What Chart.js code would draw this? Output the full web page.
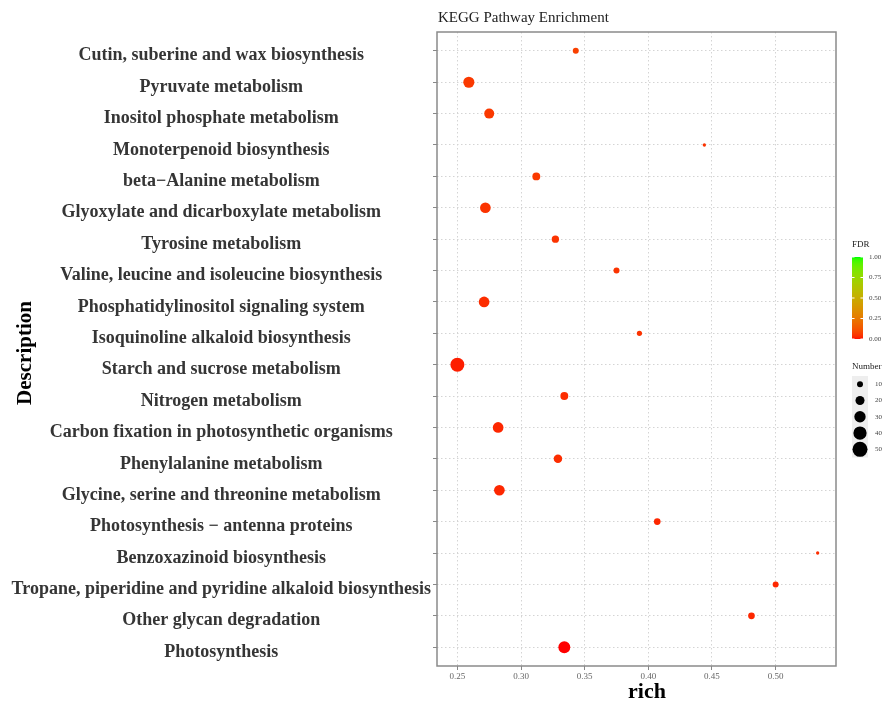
<!DOCTYPE html>
<html><head><meta charset="utf-8">
<script src="https://cdn.jsdelivr.net/npm/chart.js@4"></script>
<style>html,body{margin:0;padding:0;background:#fff;}</style>
</head><body>
<canvas id="c" width="890" height="702"></canvas>
<script>
const categories = [
  "Cutin, suberine and wax biosynthesis",
  "Pyruvate metabolism",
  "Inositol phosphate metabolism",
  "Monoterpenoid biosynthesis",
  "beta\u2212Alanine metabolism",
  "Glyoxylate and dicarboxylate metabolism",
  "Tyrosine metabolism",
  "Valine, leucine and isoleucine biosynthesis",
  "Phosphatidylinositol signaling system",
  "Isoquinoline alkaloid biosynthesis",
  "Starch and sucrose metabolism",
  "Nitrogen metabolism",
  "Carbon fixation in photosynthetic organisms",
  "Phenylalanine metabolism",
  "Glycine, serine and threonine metabolism",
  "Photosynthesis \u2212 antenna proteins",
  "Benzoxazinoid biosynthesis",
  "Tropane, piperidine and pyridine alkaloid biosynthesis",
  "Other glycan degradation",
  "Photosynthesis"
];
const richValues = [0.343, 0.259, 0.275, 0.444, 0.312, 0.272, 0.327, 0.375, 0.271, 0.393,
                    0.250, 0.334, 0.282, 0.329, 0.283, 0.407, 0.533, 0.500, 0.481, 0.334];
const geneNumbers = [10, 29, 24, 4, 16, 27, 14, 10, 27, 8,
                     44, 16, 27, 18, 27, 12, 4, 10, 12, 33];
const fdrValues = [0.075, 0.06, 0.06, 0.05, 0.06, 0.05, 0.05, 0.05, 0.04, 0.05,
                   0.02, 0.04, 0.03, 0.04, 0.03, 0.03, 0.04, 0.03, 0.03, 0.0];
const xTickValues = [0.25, 0.30, 0.35, 0.40, 0.45, 0.50];
const fdrLegendTicks = [0, 0.25, 0.5, 0.75, 1];
const sizeLegendValues = [10, 20, 30, 40, 50];

// ---- colour helpers (Lab interpolation red -> green, like ggplot) ----
function s2l(c){c/=255;return c<=0.04045?c/12.92:Math.pow((c+0.055)/1.055,2.4);}
function l2s(c){c=c<=0.0031308?12.92*c:1.055*Math.pow(c,1/2.4)-0.055;return Math.round(Math.max(0,Math.min(1,c))*255);}
function rgbToLab(rgb){
  const R=s2l(rgb[0]),G=s2l(rgb[1]),B=s2l(rgb[2]);
  const X=(0.4124*R+0.3576*G+0.1805*B)/0.95047,Y=(0.2126*R+0.7152*G+0.0722*B),Z=(0.0193*R+0.1192*G+0.9505*B)/1.08883;
  const f=t=>t>0.008856?Math.cbrt(t):7.787*t+16/116;
  return [116*f(Y)-16,500*(f(X)-f(Y)),200*(f(Y)-f(Z))];
}
function labToRgb(lab){
  const fy=(lab[0]+16)/116,fx=fy+lab[1]/500,fz=fy-lab[2]/200;
  const fi=t=>t*t*t>0.008856?t*t*t:(t-16/116)/7.787;
  const X=fi(fx)*0.95047,Y=fi(fy),Z=fi(fz)*1.08883;
  const R=3.2406*X-1.5372*Y-0.4986*Z,G=-0.9689*X+1.8758*Y+0.0415*Z,B=0.0557*X-0.2040*Y+1.0570*Z;
  return [l2s(R),l2s(G),l2s(B)];
}
const LOW=rgbToLab([255,0,0]), HIGH=rgbToLab([0,255,0]);
function fdrColor(t){
  const lab=[0,1,2].map(k=>LOW[k]+(HIGH[k]-LOW[k])*t);
  const c=labToRgb(lab);
  return `rgb(${c[0]},${c[1]},${c[2]})`;
}
function sizeRadius(n){ return Math.max(1.2, 1.151*Math.sqrt(n) - 0.64); }

const SERIF = "'Liberation Serif', 'Times New Roman', serif";

const decorPlugin = {
  id: 'decor',
  beforeDatasetsDraw(chart){
    const {ctx, chartArea:a} = chart;
    ctx.save();
    ctx.strokeStyle = '#8a8a8a';
    ctx.lineWidth = 1.5;
    ctx.strokeRect(a.left, a.top, a.right - a.left, a.bottom - a.top);
    ctx.restore();
  },
  afterDraw(chart){
    const {ctx, chartArea:a} = chart;
    ctx.save();
    // title
    ctx.fillStyle = '#222';
    ctx.font = `15px ${SERIF}`;
    ctx.textAlign = 'left'; ctx.textBaseline = 'middle';
    ctx.fillText('KEGG Pathway Enrichment', a.left + 1, 18);
    // x title
    ctx.fillStyle = '#000';
    ctx.font = `bold 22px ${SERIF}`;
    ctx.textAlign = 'center';
    ctx.textBaseline = 'alphabetic';
    ctx.fillText('rich', 647, 698);
    ctx.textBaseline = 'middle';
    // y title
    ctx.save();
    ctx.translate(26, (a.top + a.bottom) / 2 + 4);
    ctx.rotate(-Math.PI / 2);
    ctx.font = `bold 21px ${SERIF}`;
    ctx.fillText('Description', 0, 0);
    ctx.restore();

    // FDR legend
    const bx = 852, bw = 11, btop = 257, bbot = 339;
    ctx.fillStyle = '#222';
    ctx.font = `9px ${SERIF}`;
    ctx.textAlign = 'left';
    ctx.fillText('FDR', bx, 245);
    for (let y = btop; y < bbot; y++) {
      const t = 1 - (y - btop) / (bbot - btop);
      ctx.fillStyle = fdrColor(t);
      ctx.fillRect(bx, y, bw, 1);
    }
    ctx.font = `7px ${SERIF}`;
    fdrLegendTicks.forEach(v => {
      const y = bbot - v * (bbot - btop);
      ctx.strokeStyle = '#fff'; ctx.lineWidth = 1;
      ctx.beginPath();
      ctx.moveTo(bx, y); ctx.lineTo(bx + 2.5, y);
      ctx.moveTo(bx + bw - 2.5, y); ctx.lineTo(bx + bw, y);
      ctx.stroke();
      ctx.fillStyle = '#444';
      ctx.fillText(v.toFixed(2), bx + bw + 6, y);
    });

    // Number legend
    ctx.fillStyle = '#222';
    ctx.font = `9px ${SERIF}`;
    ctx.fillText('Number', bx, 367);
    const keyTop = 376, keyH = 16.3;
    ctx.fillStyle = '#eeeeee';
    ctx.fillRect(bx, keyTop, 16, keyH * sizeLegendValues.length);
    sizeLegendValues.forEach((n, i) => {
      const cy = keyTop + keyH * (i + 0.5);
      ctx.fillStyle = '#000';
      ctx.beginPath();
      ctx.arc(bx + 8, cy, sizeRadius(n), 0, Math.PI * 2);
      ctx.fill();
      ctx.fillStyle = '#444';
      ctx.font = `7px ${SERIF}`;
      ctx.fillText(String(n), bx + 23, cy);
    });
    ctx.restore();
  }
};

new Chart(document.getElementById('c'), {
  type: 'scatter',
  data: {
    datasets: [{
      data: richValues.map((x, i) => ({x: x, y: i})),
      pointRadius: c => sizeRadius(geneNumbers[c.dataIndex]),
      pointHoverRadius: c => sizeRadius(geneNumbers[c.dataIndex]),
      pointBackgroundColor: c => fdrColor(fdrValues[c.dataIndex]),
      pointBorderWidth: 0,
      pointBorderColor: 'rgba(0,0,0,0)'
    }]
  },
  options: {
    responsive: false,
    animation: false,
    devicePixelRatio: 1,
    layout: {padding: {top: 32, right: 54, bottom: 0, left: 0}},
    plugins: {legend: {display: false}, tooltip: {enabled: false}},
    scales: {
      x: {
        type: 'linear',
        min: 0.234, max: 0.5474,
        afterBuildTicks: s => { s.ticks = xTickValues.map(v => ({value: v})); },
        afterFit: s => { s.height = 36; },
        ticks: {
          callback: v => Number(v).toFixed(2),
          autoSkip: false, maxRotation: 0,
          font: {family: SERIF, size: 9},
          color: '#666', padding: 1
        },
        grid: {color: '#d4d4d4', lineWidth: 1, tickLength: 4, tickColor: '#888', tickBorderDash: [], tickWidth: 1},
        border: {display: false, dash: [1.5, 2.5]}
      },
      y: {
        type: 'linear',
        reverse: true,
        min: -0.6, max: 19.6,
        afterBuildTicks: s => { s.ticks = categories.map((_, i) => ({value: i})); },
        afterFit: s => { s.width = 437; },
        ticks: {
          callback: v => categories[v],
          autoSkip: false,
          crossAlign: 'center',
          labelOffset: 5,
          font: {family: SERIF, size: 18, weight: 'bold'},
          color: '#353535', padding: 2
        },
        grid: {color: '#d4d4d4', lineWidth: 1, tickLength: 4, tickColor: '#888', tickBorderDash: [], tickWidth: 1},
        border: {display: false, dash: [1.5, 2.5]}
      }
    }
  },
  plugins: [decorPlugin]
});
</script>
</body></html>
